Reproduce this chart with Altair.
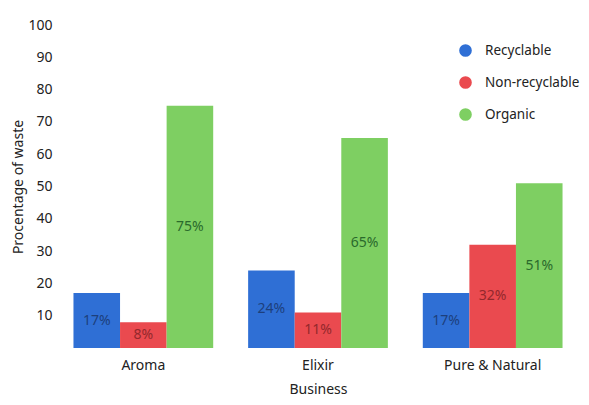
import altair as alt
import pandas as pd

businesses = ["Aroma", "Elixir", "Pure & Natural"]
categories = ["Recyclable", "Non-recyclable", "Organic"]
recyclable = [17, 24, 17]
non_recyclable = [8, 11, 32]
organic = [75, 65, 51]

colors = ["#2f6fd5", "#ea4a4f", "#7ecf62"]
text_colors = ["#1d3f7c", "#93282c", "#2a6a2c"]

rows = []
for i, b in enumerate(businesses):
    for cat, vals in zip(categories, [recyclable, non_recyclable, organic]):
        rows.append({"Business": b, "Category": cat, "Value": vals[i],
                     "Label": f"{vals[i]}%", "Half": vals[i] / 2})
df = pd.DataFrame(rows)

FONT = "Noto Sans"

x = alt.X("Business:N", sort=businesses, title="Business",
          scale=alt.Scale(paddingInner=0.2, paddingOuter=0.1),
          axis=alt.Axis(labelAngle=0, domain=False, ticks=False, labelPadding=10,
                        titlePadding=10, labelFontSize=14, titleFontSize=14,
                        labelColor="#222", titleColor="#222", labelFont=FONT,
                        titleFont=FONT, titleFontWeight="normal"))
xoff = alt.XOffset("Category:N", sort=categories,
                   scale=alt.Scale(paddingInner=0, paddingOuter=0))

yaxis = alt.Axis(values=[10, 20, 30, 40, 50, 60, 70, 80, 90, 100],
                 labelOverlap=False, labelBound=False,
                 grid=False, domain=False, ticks=False, labelPadding=4,
                 labelFontSize=14, titleFontSize=14, labelColor="#222",
                 titleColor="#222", labelFont=FONT, titleFont=FONT,
                 titleFontWeight="normal", titlePadding=2)

bars = alt.Chart(df).mark_bar().encode(
    x=x,
    xOffset=xoff,
    y=alt.Y("Value:Q", title="Procentage of waste",
            scale=alt.Scale(domain=[0, 100]), axis=yaxis),
    color=alt.Color("Category:N", sort=categories,
                    scale=alt.Scale(domain=categories, range=colors),
                    legend=alt.Legend(title=None, orient="none", legendX=402, legendY=18,
                                      symbolType="circle", symbolSize=160,
                                      labelFontSize=13.5, labelFont=FONT, labelColor="#222",
                                      rowPadding=18, labelOffset=12)),
)

texts = alt.Chart(df).mark_text(fontSize=14, font=FONT, baseline="middle").encode(
    x=x,
    xOffset=xoff,
    y=alt.Y("Half:Q", title="Procentage of waste", axis=yaxis),
    text="Label:N",
    color=alt.Color("Category:N", sort=categories,
                    scale=alt.Scale(domain=categories, range=text_colors), legend=None),
)

chart = alt.layer(bars, texts).resolve_scale(color="independent").properties(
    width=524, height=323,
    autosize=alt.AutoSizeParams(type="none"),
    padding={"left": 48, "top": 17, "right": 1, "bottom": 49},
).configure_view(stroke=None)

chart.save("out.html", embed_options={"renderer": "svg", "actions": False})
